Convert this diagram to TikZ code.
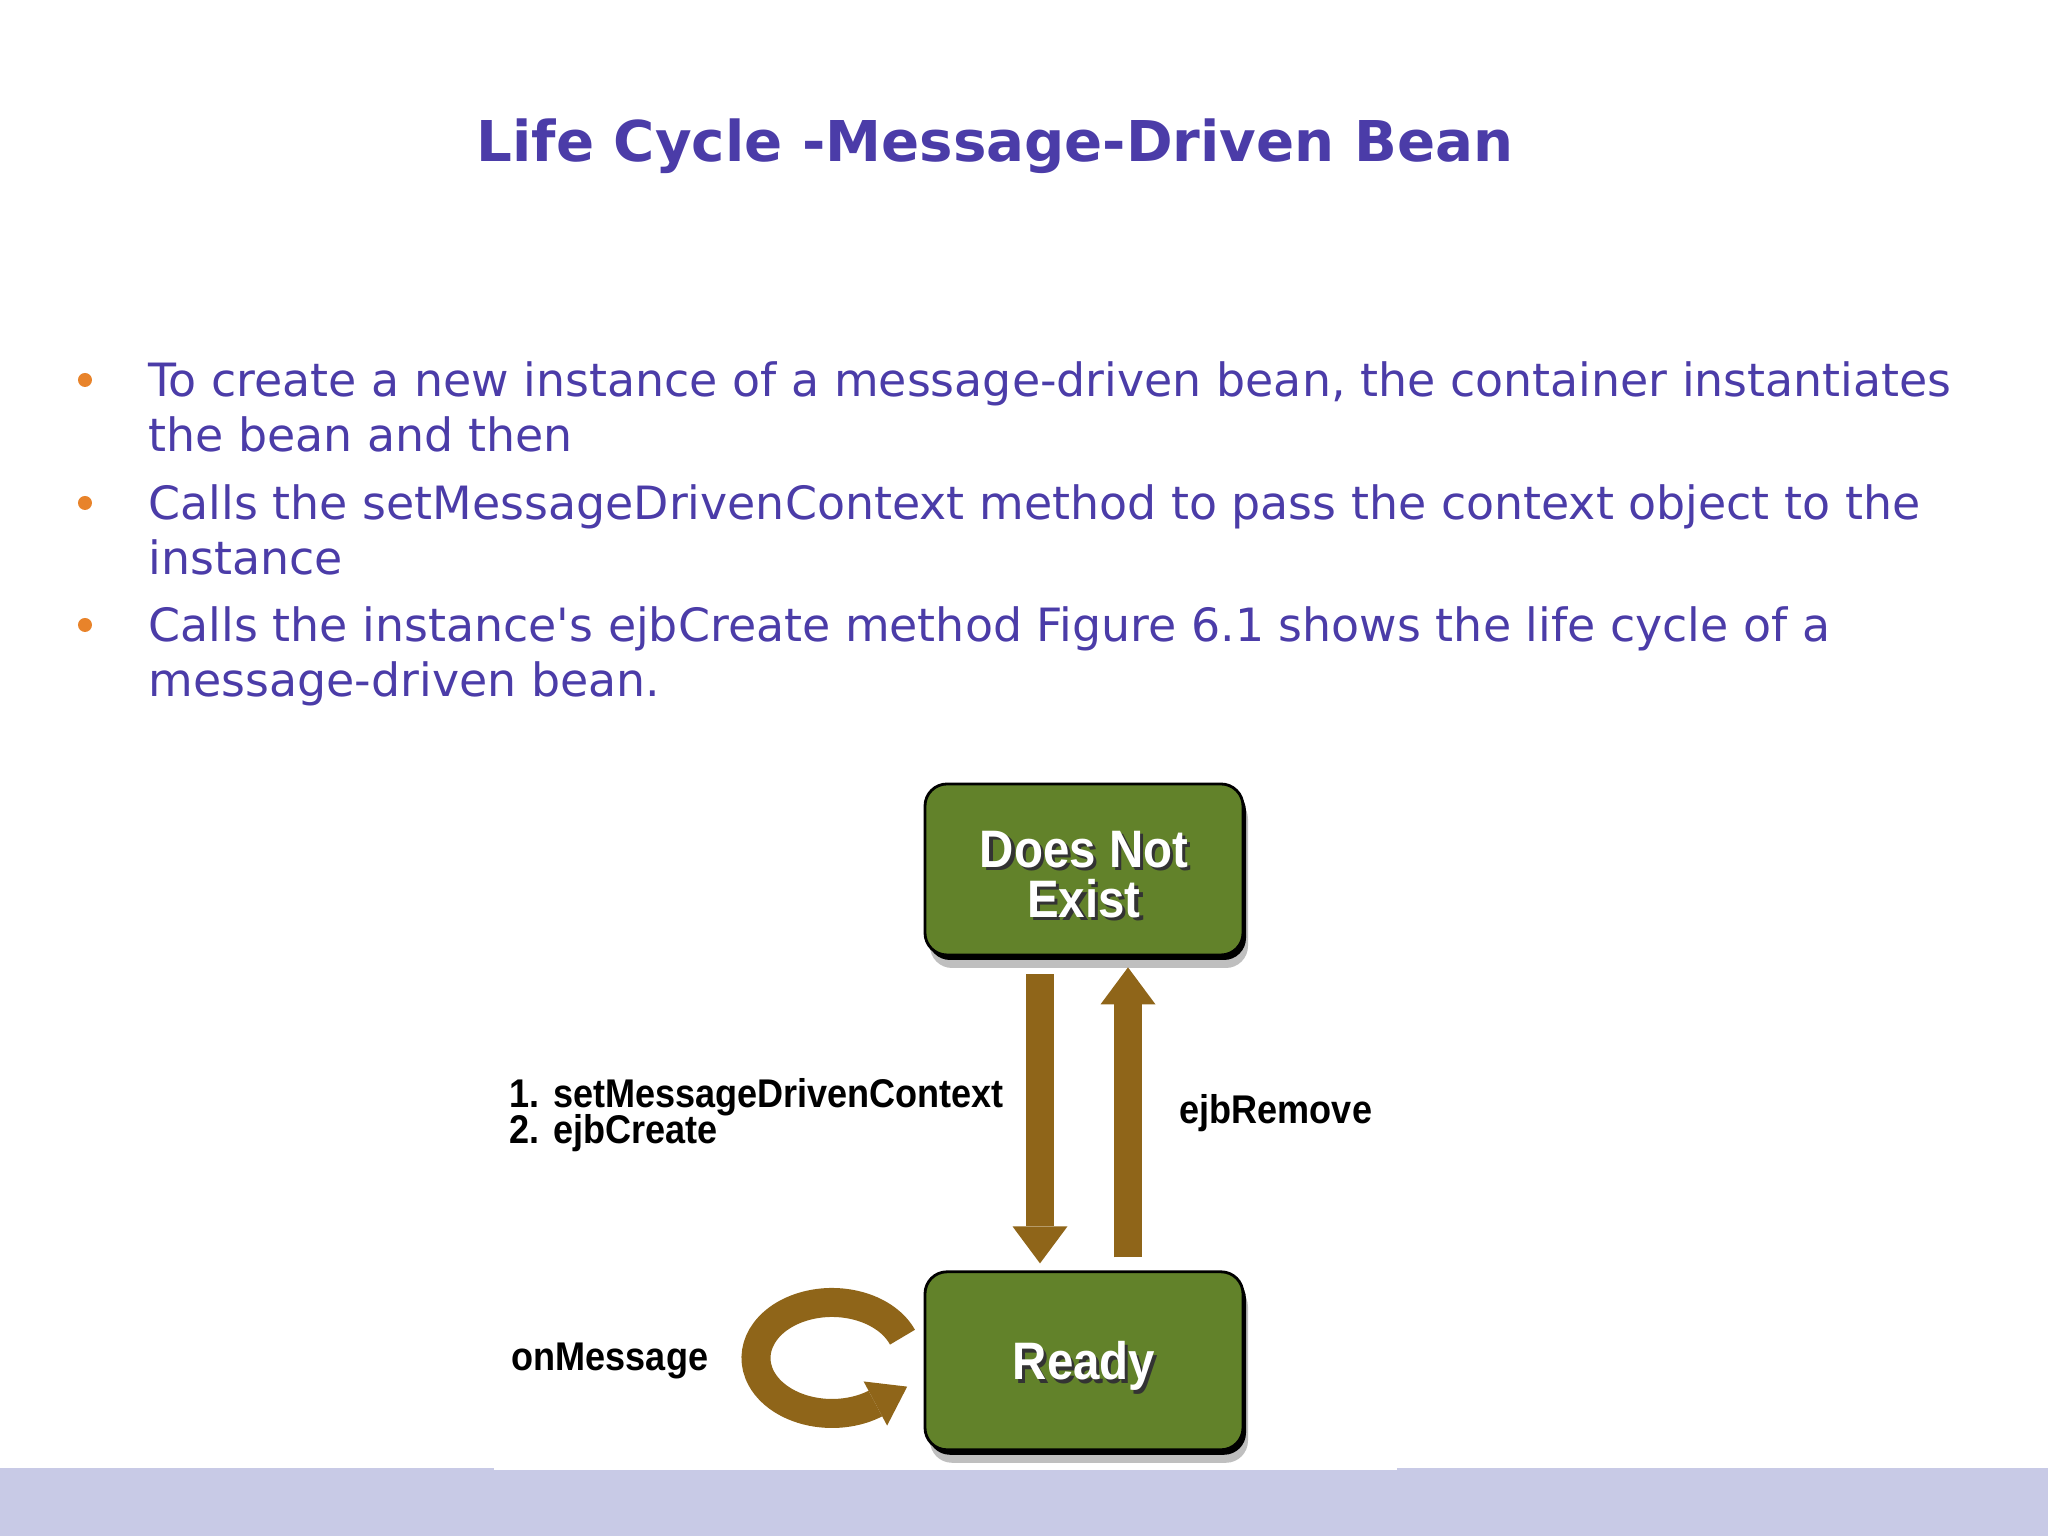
\documentclass[tikz,border=0pt]{standalone}
\usepackage{fontspec}
\setmainfont{DejaVu Sans}
\newfontfamily\figfont{Liberation Sans}[FakeStretch=0.9]
\usetikzlibrary{positioning,arrows.meta,shadows}

\definecolor{titleblue}{HTML}{4B3CA8}
\definecolor{bulletorange}{HTML}{E8832A}
\definecolor{bandlilac}{HTML}{C8CAE6}
\definecolor{stategreen}{HTML}{62822A}
\definecolor{arrowbrown}{HTML}{8F6519}

\newcommand\ombre[1]{\makebox[0pt][l]{\hspace{0.06em}\raisebox{-0.06em}{\textcolor{black!80}{#1}}}#1}
\newcommand\serre{\lineskiplimit=-5pt\relax}

\tikzstyle{titre}=[anchor=base,inner sep=0,text=titleblue,font=\bfseries\fontsize{16}{19}\selectfont]
\tikzstyle{texte}=[anchor=base west,inner sep=0,align=left,text=titleblue,font=\fontsize{13.05}{15.8}\selectfont]
\tikzstyle{puce}=[circle,fill=bulletorange,inner sep=0,minimum size=0.14cm]
\tikzstyle{etat}=[rectangle,rounded corners=0.22cm,draw=black,line width=0.8pt,fill=stategreen,minimum width=3.18cm,text=white,align=center,font=\figfont\bfseries\fontsize{15}{14.2}\selectfont,drop shadow={shadow xshift=0.05cm,shadow yshift=-0.13cm,fill=black,opacity=0.25},drop shadow={shadow xshift=0.03cm,shadow yshift=-0.05cm,fill=black,opacity=1}]
\tikzstyle{legende}=[anchor=base west,inner sep=0,align=left,font=\figfont\bfseries\fontsize{11.4}{10.4}\selectfont\serre]
\tikzstyle{fleche}=[draw=arrowbrown,line width=0.28cm,-{Triangle[width=0.55cm,length=0.37cm,line width=0pt]}]
\tikzstyle{boucle}=[draw=arrowbrown,line width=0.29cm,-{Triangle[width=0.5cm,length=0.36cm,line width=0pt]}]

\begin{document}
\begin{tikzpicture}
\useasboundingbox (0,0) rectangle (20.48,15.36);

% bande du bas
\fill[bandlilac] (0,0) rectangle (20.48,0.68);
\fill[white] (4.94,0.66) rectangle (13.97,0.69);

\node[titre] (T00) at (9.95,13.74) {Life Cycle -Message-Driven Bean};

% les nodes a deux lignes sont places sur la ligne du bas
\node[texte] (P10) at (1.48,10.84) {To create a new instance of a message-driven bean, the container instantiates\\the bean and then};
\node[texte] (P20) at (1.48,9.61) {Calls the setMessageDrivenContext method to pass the context object to the\\instance};
\node[texte] (P30) at (1.48,8.39) {Calls the instance\textquotesingle s ejbCreate method Figure 6.1 shows the life cycle of a\\message-driven bean.};
\node[puce] (B10) at ([xshift=-0.63cm,yshift=0.72cm]P10.base west) {};
\node[puce] (B20) at ([xshift=-0.63cm,yshift=0.72cm]P20.base west) {};
\node[puce] (B30) at ([xshift=-0.63cm,yshift=0.72cm]P30.base west) {};

% diagramme
\node[etat,minimum height=1.71cm] (N40) at (10.84,6.665) {\rule{0pt}{14.3pt}\ombre{Does Not}\\\ombre{Exist}};
\node[etat,minimum height=1.78cm,text depth=0pt] (R50) [below =3.14cm of N40] {\ombre{Ready}};

\draw[fleche,shorten <=0.18cm,shorten >=0.07cm] ([xshift=-0.44cm]N40.south) -- ([xshift=-0.44cm]R50.north);
\draw[fleche,shorten <=0.13cm,shorten >=0.11cm] ([xshift=0.44cm]R50.north) -- ([xshift=0.44cm]N40.south);

\node[legende] (L41) at (5.09,3.92) {1. setMessageDrivenContext\\2. ejbCreate};
\node[legende] (L42) at (11.79,4.12) {ejbRemove};

\coordinate (C60) at (8.32,1.78);
\draw[boucle] ([shift={(22:0.76 and 0.555)}]C60) arc[start angle=22,end angle=304,x radius=0.76,y radius=0.555] -- ++(28:0.37);
\node[legende] (L60) at (5.11,1.65) {onMessage};

\end{tikzpicture}
\end{document}
